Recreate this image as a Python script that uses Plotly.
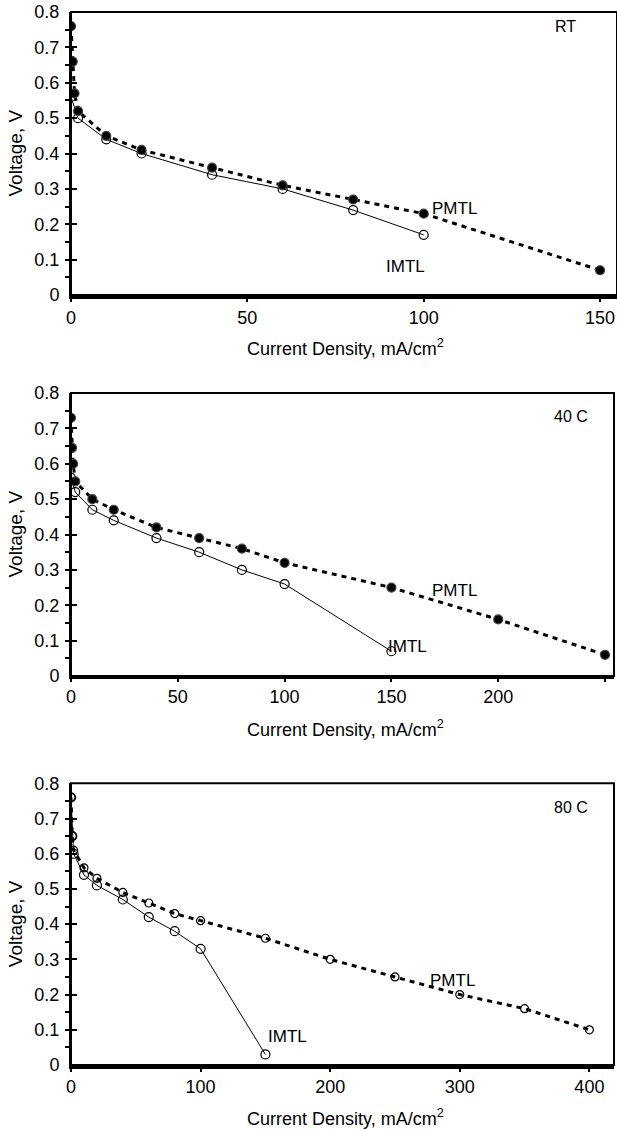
import plotly.graph_objects as go

# ---------------- data ----------------
# Panel 1: RT
rt_pmtl_x = [0, 0.5, 1, 2, 10, 20, 40, 60, 80, 100, 150]
rt_pmtl_v = [0.76, 0.66, 0.57, 0.52, 0.45, 0.41, 0.36, 0.31, 0.27, 0.23, 0.07]
rt_imtl_x = [0, 2, 10, 20, 40, 60, 80, 100]
rt_imtl_v = [0.56, 0.50, 0.44, 0.40, 0.34, 0.30, 0.24, 0.17]

# Panel 2: 40 C
c40_pmtl_x = [0, 0.5, 1, 2, 10, 20, 40, 60, 80, 100, 150, 200, 250]
c40_pmtl_v = [0.73, 0.645, 0.60, 0.55, 0.50, 0.47, 0.42, 0.39, 0.36, 0.32, 0.25, 0.16, 0.06]
c40_imtl_x = [0, 2, 10, 20, 40, 60, 80, 100, 150]
c40_imtl_v = [0.56, 0.52, 0.47, 0.44, 0.39, 0.35, 0.30, 0.26, 0.07]

# Panel 3: 80 C
c80_pmtl_x = [0, 1, 2, 10, 20, 40, 60, 80, 100, 150, 200, 250, 300, 350, 400]
c80_pmtl_v = [0.76, 0.65, 0.61, 0.56, 0.53, 0.49, 0.46, 0.43, 0.41, 0.36, 0.30, 0.25, 0.20, 0.16, 0.10]
c80_imtl_x = [0, 1, 2, 10, 20, 40, 60, 80, 100, 150]
c80_imtl_v = [0.76, 0.65, 0.60, 0.54, 0.51, 0.47, 0.42, 0.38, 0.33, 0.03]

panel_titles = ["RT", "40 C", "80 C"]
x_title = "Current Density, mA/cm<sup>2</sup>"
y_title = "Voltage, V"

FONT = "Arial, Liberation Sans, sans-serif"
W, H = 617, 1131
L = 71

fig = go.Figure()

def add_panel(i, px, pv, ix, iv, pmtl_open):
    xa = "x" if i == 1 else f"x{i}"
    ya = "y" if i == 1 else f"y{i}"
    fig.add_trace(go.Scatter(
        x=ix, y=iv, xaxis=xa, yaxis=ya, mode="lines+markers",
        line=dict(color="black", width=1),
        marker=dict(symbol="circle-open", size=9, color="black", line=dict(width=1.2)),
        showlegend=False, name="IMTL"))
    fig.add_trace(go.Scatter(
        x=px, y=pv, xaxis=xa, yaxis=ya, mode="lines+markers",
        line=dict(color="black", width=3, dash="5px,5px"),
        marker=dict(symbol="circle-open" if pmtl_open else "circle",
                    size=9 if not pmtl_open else 8, color="black",
                    line=dict(width=1.2)),
        showlegend=False, name="PMTL"))

add_panel(1, rt_pmtl_x, rt_pmtl_v, rt_imtl_x, rt_imtl_v, False)
add_panel(2, c40_pmtl_x, c40_pmtl_v, c40_imtl_x, c40_imtl_v, False)
add_panel(3, c80_pmtl_x, c80_pmtl_v, c80_imtl_x, c80_imtl_v, True)

def py(pix):
    return 1 - pix / H

def pxd(pix):
    return (pix - L) / (W - L)

panels = [
    dict(top=12, bot=295, right=617, xmax=154.8, dtick=50, blw=4, title_y=347),
    dict(top=393, bot=676, right=614, xmax=254.2, dtick=50, blw=2.5, title_y=728),
    dict(top=783.3, bot=1065, right=614, xmax=419, dtick=100, blw=3.5, title_y=1117),
]

layout = dict(
    width=W, height=H, margin=dict(l=L, r=0, t=0, b=0, autoexpand=False),
    paper_bgcolor="white", plot_bgcolor="white",
    font=dict(family=FONT, color="black", size=18),
    showlegend=False,
)
shapes = []
annotations = []
for k, p in enumerate(panels, start=1):
    xk = "xaxis" if k == 1 else f"xaxis{k}"
    yk = "yaxis" if k == 1 else f"yaxis{k}"
    xr = "x" if k == 1 else f"x{k}"
    yr = "y" if k == 1 else f"y{k}"
    layout[xk] = dict(
        domain=[0, pxd(p["right"])], anchor=yr, range=[0, p["xmax"]],
        dtick=p["dtick"], tick0=0, showgrid=False, zeroline=False,
        showline=True, linecolor="black", linewidth=p["blw"],
        ticks="outside", ticklen=3, tickwidth=1.5, tickcolor="black",
        tickfont=dict(size=18, family=FONT), ticklabelstandoff=0,
        automargin=False,
    )
    layout[yk] = dict(
        domain=[py(p["bot"]), py(p["top"])], anchor=xr, range=[0, 0.8],
        dtick=0.1, tick0=0, showgrid=False, zeroline=False,
        showline=True, linecolor="black", linewidth=2,
        ticks="inside", ticklen=6, tickwidth=1.5, tickcolor="black",
        tickformat=".1~f",
        tickfont=dict(size=18, family=FONT), ticklabelstandoff=6,
        minor=dict(dtick=0.05, tick0=0, ticks="outside", ticklen=4,
                   tickwidth=1.5, tickcolor="black"),
        automargin=False,
    )
    shapes.append(dict(type="rect", xref=f"{xr} domain", yref=f"{yr} domain",
                       x0=0, x1=1, y0=0, y1=1,
                       line=dict(color="black", width=2), layer="above"))
    annotations.append(dict(text=x_title, xref="paper", yref="paper",
                            x=pxd(345), y=py(p["title_y"]),
                            xanchor="center", yanchor="middle", showarrow=False,
                            font=dict(size=18, family=FONT)))
    annotations.append(dict(text=y_title, xref="paper", yref="paper",
                            x=pxd(15), y=py((p["top"] + p["bot"]) / 2),
                            xanchor="center", yanchor="middle", showarrow=False,
                            textangle=-90, font=dict(size=19, family=FONT)))

label_specs = [
    (1, panel_titles[0], 140.3, 0.76, "center"),
    (1, "PMTL", 101.8, 0.245, "left"),
    (1, "IMTL", 94.8, 0.08, "center"),
    (2, panel_titles[1], 234, 0.733, "center"),
    (2, "PMTL", 168, 0.243, "left"),
    (2, "IMTL", 147.6, 0.083, "left"),
    (3, panel_titles[2], 385.9, 0.731, "center"),
    (3, "PMTL", 275.7, 0.241, "left"),
    (3, "IMTL", 150.5, 0.082, "left"),
]
for k, txt, x, y, anc in label_specs:
    xr = "x" if k == 1 else f"x{k}"
    yr = "y" if k == 1 else f"y{k}"
    annotations.append(dict(text=txt, xref=xr, yref=yr, x=x, y=y,
                            xanchor=anc, yanchor="middle", showarrow=False,
                            font=dict(size=17 if txt in ("PMTL", "IMTL") else 16,
                                      family=FONT)))

layout["shapes"] = shapes
layout["annotations"] = annotations
fig.update_layout(**layout)
fig.write_html(
    "out.html",
    config={"displayModeBar": False},
    post_script="document.body.style.margin='0';document.body.style.overflow='hidden';",
)
